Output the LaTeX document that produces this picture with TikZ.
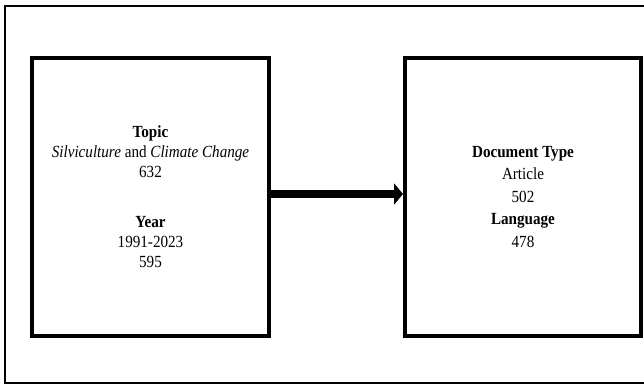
\documentclass[tikz,border=0pt]{standalone}
\usepackage{fontspec}
\setmainfont{Liberation Serif}[FakeStretch=0.89]
\usetikzlibrary{arrows.meta}
\tikzset{
  box/.style={draw=black, line width=4pt, minimum width=237pt, minimum height=278pt,
    align=center, inner sep=0pt, font=\fontsize{17}{20}\selectfont},
  frame/.style={draw=black, line width=1.3pt},
  flow/.style={line width=8pt, -{Triangle[length=9pt,width=21pt]}}
}
\begin{document}
\begin{tikzpicture}[x=1pt,y=1pt]
\useasboundingbox (0,0) rectangle (644,-385);
\begin{scope}
\clip (0,0) rectangle (644,-385);
\draw[frame] (5,-6) rectangle (650,-383);
\end{scope}
\node[box] (L) at (150.5,-197) {\textbf{Topic}\\
  \textit{Silviculture} and \textit{Climate Change}\\
  632\\[30pt]
  \textbf{Year}\\
  1991-2023\\
  595};
\node[box, minimum width=236pt, font=\fontsize{17}{22.5}\selectfont] (R) at (523,-197) {\textbf{Document Type}\\
  Article\\
  502\\
  \textbf{Language}\\
  478};
\draw[flow] ([yshift=3pt]L.east) -- ([yshift=3pt]R.west);
\end{tikzpicture}
\end{document}
